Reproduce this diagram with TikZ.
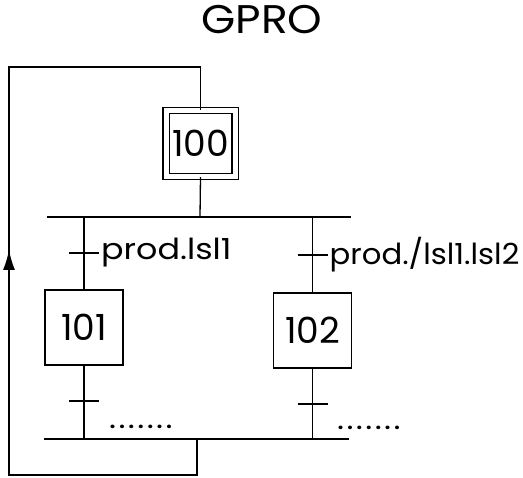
\documentclass[tikz,border=0pt]{standalone}
\usepackage{fontspec}
\setmainfont{Poppins}
\newfontfamily\lblfont[FakeStretch=1.15]{Poppins}
\newfontfamily\titlefont[FakeStretch=1.1]{Poppins}
\usetikzlibrary{arrows.meta}
\newcommand{\dotrow}{.\kern2.4pt.\kern2.4pt.\kern2.4pt.\kern2.4pt.\kern2.4pt.\kern2.4pt.}
\begin{document}
\begin{tikzpicture}[x=1pt,y=-1pt,
  line/.style={line width=1.3pt},
  bar/.style={line width=1.8pt},
  stepbox/.style={draw,line width=1.3pt,minimum width=78pt,minimum height=75pt,inner sep=0pt,font=\fontsize{36}{36}\selectfont},
  initbox/.style={draw,double,line width=1.3pt,double distance=5pt,minimum width=69pt,minimum height=66pt,inner sep=0pt,font=\fontsize{36}{36}\selectfont},
  lbl/.style={anchor=west,inner sep=0pt,font=\lblfont\fontsize{29}{29}\selectfont},
  dotlbl/.style={anchor=base west,inner sep=0pt,font=\lblfont\fontsize{29}{29}\selectfont},
  title/.style={font=\titlefont\fontsize{40}{40}\selectfont}]
\useasboundingbox (0,0) rectangle (523,478);
\node[title] (title) at (262,20) {GPRO};
\node[initbox] (s100) at (200.5,143.5) {100};
\node[stepbox] (s101) at (84,327.5) {101};
\node[stepbox] (s102) at (312.5,330.5) {102};
% divergence bar
\coordinate (d1L) at (47,217); \coordinate (d1R) at (351,217);
\coordinate (d1a) at (84,217); \coordinate (d1b) at (312.5,217); \coordinate (d1c) at (200,217);
\draw[bar] (d1L) -- (d1R);
\draw[line] (s100.south) -- (d1c);
% transitions
\coordinate (t1) at (84,253); \coordinate (t2) at (312.5,255);
\coordinate (t3) at (84,401); \coordinate (t4) at (312.5,404);
\draw[line] (d1a) -- (s101.north);
\draw[line] (d1b) -- (s102.north);
\draw[line] ([xshift=-15pt]t1) -- ([xshift=15pt]t1);
\draw[line] ([xshift=-15pt]t2) -- ([xshift=15pt]t2);
\draw[line] ([xshift=-15pt]t3) -- ([xshift=15pt]t3);
\draw[line] ([xshift=-15pt]t4) -- ([xshift=15pt]t4);
\node[lbl] (l1) at ([xshift=17pt]t1) {prod.lsl1};
\node[lbl] (l2) at ([xshift=17pt]t2) {\scalebox{0.92}[1]{prod./lsl1.lsl2}};
\node[dotlbl] (dots1) at (109,429) {\dotrow};
\node[dotlbl] (dots2) at (337,430) {\dotrow};
% convergence bar
\coordinate (d2L) at (44,439); \coordinate (d2R) at (349,439);
\coordinate (d2a) at (84,439); \coordinate (d2b) at (312.5,439); \coordinate (d2c) at (197,439);
\draw[line] (s101.south) -- (d2a);
\draw[line] (s102.south) -- (d2b);
\draw[bar] (d2L) -- (d2R);
% loop back
\coordinate (b1) at (197,475); \coordinate (b2) at (9,475);
\coordinate (ar) at (9,250); \coordinate (tp1) at (9,67); \coordinate (tp2) at (200.5,67);
\draw[line] (d2c) -- (b1) -- (b2) -- (ar);
\draw[line,-{Latex[length=20pt,width=12pt]}] (b2) -- (ar);
\draw[line] (ar) -- (tp1) -- (tp2) -- (s100.north);
\end{tikzpicture}
\end{document}
